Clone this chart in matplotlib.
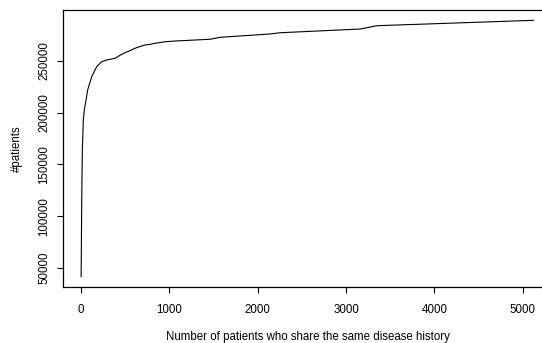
import matplotlib
matplotlib.use("Agg")
from matplotlib import pyplot as plt

# number of patients sharing the same disease history vs cumulative #patients
share_count = [1, 8, 15, 26, 37, 57, 75, 121, 177, 234, 290, 385, 440, 498, 555,
               611, 670, 725, 780, 838, 951, 1064, 1460, 1574, 2140, 2253, 3159,
               3348, 5121]
n_patients = [41600, 115700, 164000, 193000, 202700, 212300, 222000, 234800,
              244500, 249300, 251000, 252600, 255500, 258000, 260000, 262300,
              264000, 265500, 266000, 267100, 268600, 269300, 271000, 272900,
              276100, 277300, 280900, 284100, 289300]
x_ticks = [0, 1000, 2000, 3000, 4000, 5000]
y_ticks = [50000, 100000, 150000, 200000, 250000]

plt.rcParams['font.family'] = 'Liberation Sans'
plt.rcParams['font.size'] = 8.3

W, H = 542, 343
fig = plt.figure(figsize=(W / 100, H / 100), dpi=100)
# plot region in pixels: left 63, top 10, bottom 287; right edge falls off the image
left, top, bottom, right = 63, 10, 287, 552
ax = fig.add_axes([left / W, (H - bottom) / H, (right - left) / W, (bottom - top) / H])

ax.plot(share_count, n_patients, color='black', linewidth=0.8)

ax.set_xlim(-204, 5330)
ax.set_ylim(31640, 299275)
ax.set_xticks(x_ticks)
ax.set_yticks(y_ticks)
ax.set_yticklabels([str(v) for v in y_ticks], rotation=90, va='center')
ax.tick_params(direction='out', length=4.3, width=0.8, pad=8)
ax.tick_params(axis='y', pad=5)

for s in ax.spines.values():
    s.set_linewidth(0.9)

ax.set_xlabel('Number of patients who share the same disease history', labelpad=11)
ax.set_ylabel('#patients', labelpad=11)

fig.savefig('out.png', dpi=100)
